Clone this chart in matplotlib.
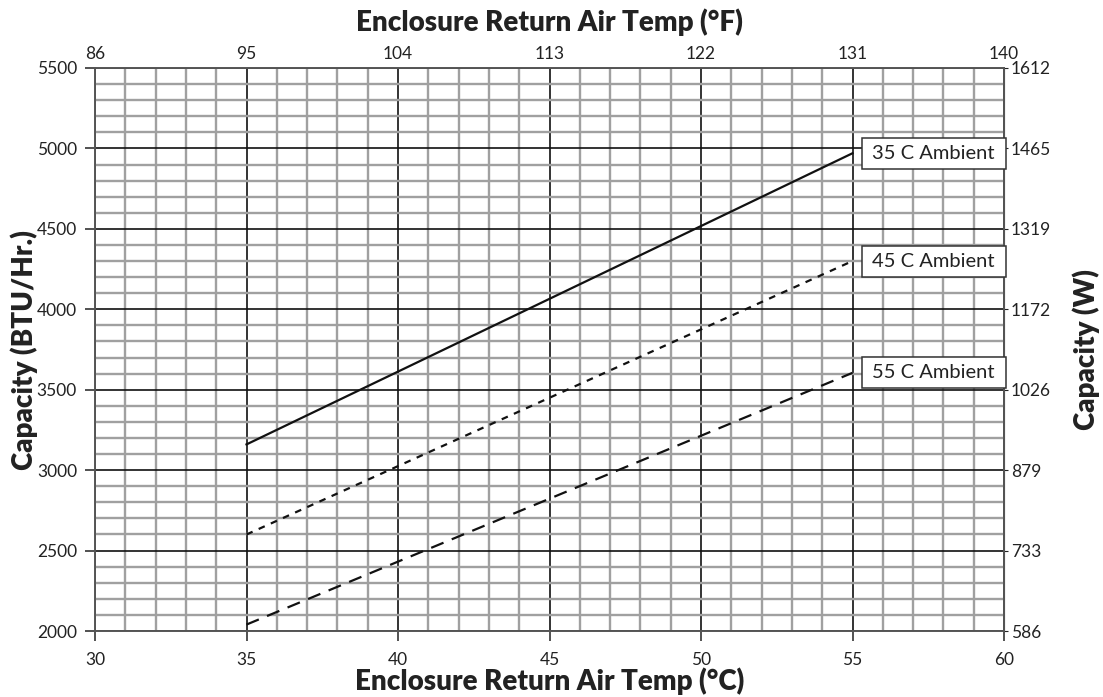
import matplotlib
matplotlib.use("Agg")
import matplotlib.pyplot as plt
from matplotlib.patches import Rectangle
import numpy as np

# Data
temp_c = [35, 55]
series_names = ["35 C Ambient", "45 C Ambient", "55 C Ambient"]
cap_35 = [3160, 4970]
cap_45 = [2600, 4300]
cap_55 = [2040, 3605]
x_ticks_c = [30, 35, 40, 45, 50, 55, 60]
top_tick_labels = ["86", "95", "104", "113", "122", "131", "140"]
y_ticks = [2000, 2500, 3000, 3500, 4000, 4500, 5000, 5500]
right_tick_labels = ["586", "733", "879", "1026", "1172", "1319", "1465", "1612"]

plt.rcParams['font.family'] = ['Lato', 'DejaVu Sans']

W, H = 1103, 697
fig = plt.figure(figsize=(W / 100, H / 100), dpi=100)
ax = fig.add_axes([95 / W, 1 - 631 / H, (1004 - 95) / W, (631 - 68) / H])

ax.set_xlim(30, 60)
ax.set_ylim(2000, 5500)

TICK_FS = 12.5
TITLE_FS = 20
TXT = '#222222'

# grid
ax.set_xticks(np.arange(30, 61, 1), minor=True)
ax.set_yticks(np.arange(2000, 5501, 100), minor=True)
ax.set_xticks(x_ticks_c)
ax.set_yticks(y_ticks)
ax.grid(which='minor', color='#a0a0a0', linewidth=1.7, zorder=0)
ax.grid(which='major', color='#111111', linewidth=1.2, zorder=1)
ax.set_axisbelow(True)
ax.tick_params(which='minor', length=0)
ax.tick_params(which='major', length=7, width=1.1, labelsize=TICK_FS, colors=TXT, pad=6)
ax.tick_params(axis='x', which='major', pad=8)
for s in ax.spines.values():
    s.set_color('#555555')
    s.set_linewidth(1.4)

styles = ['-', (0, (3, 3)), (0, (6, 4))]
series = [cap_35, cap_45, cap_55]
for name, vals, ls in zip(series_names, series, styles):
    ax.plot(temp_c, vals, color='#111111', linestyle=ls, linewidth=1.6, zorder=3)
    yc = vals[-1]
    h = 193
    ax.add_patch(Rectangle((55.31, yc - h / 2), 60.07 - 55.31, h, facecolor='white',
                           edgecolor='#333333', linewidth=1.1, zorder=5, clip_on=False))
    ax.text(55.64, yc, name, ha='left', va='center', fontsize=14.5,
            color=TXT, zorder=6, clip_on=False)

# top axis (°F)
top = ax.secondary_xaxis('top')
top.set_xticks(x_ticks_c)
top.set_xticklabels(top_tick_labels)
top.tick_params(length=0, labelsize=TICK_FS, colors=TXT, pad=4)
top.spines['top'].set_visible(False)

# right axis (W)
right = ax.secondary_yaxis('right')
right.set_yticks(y_ticks)
right.set_yticklabels(right_tick_labels)
right.tick_params(length=3, labelsize=TICK_FS, colors=TXT, pad=2)
right.spines['right'].set_color('#333333')

cx = (95 + 1004) / 2 / W
title_kw = dict(fontsize=TITLE_FS, fontweight='heavy', color=TXT)
fig.text(cx, 1 - 31 / H, 'Enclosure Return Air Temp (°F)', ha='center', va='baseline', **title_kw)
fig.text(cx, 1 - 690 / H, 'Enclosure Return Air Temp (°C)', ha='center', va='baseline', **title_kw)
fig.text(24 / W, 1 - 350 / H, 'Capacity (BTU/Hr.)', rotation=90, ha='center', va='center', **title_kw)
fig.text(1086 / W, 1 - 350 / H, 'Capacity (W)', rotation=90, ha='center', va='center', **title_kw)

fig.savefig('out.png', dpi=100)
